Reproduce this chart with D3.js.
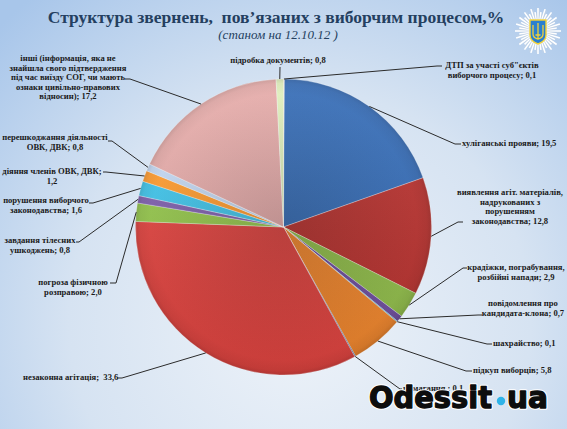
<!DOCTYPE html>
<html>
<head>
<meta charset="utf-8">
<script src="https://cdn.jsdelivr.net/npm/d3@7"></script>
<style>
  body { margin: 0; padding: 0; overflow: hidden; }
  #chart svg { display: block; }
</style>
</head>
<body>
<div id="chart"></div>
<script>
///////////////////////////////////////////////////////////////////////////
///////////////////////////////// Data ////////////////////////////////////
///////////////////////////////////////////////////////////////////////////

// slice names, clockwise from 12 o'clock; {v} is where the value goes
var names = [
  'ДТП за участі суб"єктів\nвиборчого процесу; {v}',
  "хуліганські прояви; {v}",
  "виявлення агіт. матеріалів,\nнадрукованих з\nпорушенням\nзаконодавства; {v}",
  "крадіжки, пограбування,\nрозбійні напади; {v}",
  "повідомлення про\nкандидата-клона; {v}",
  "шахрайство; {v}",
  "підкуп виборців; {v}",
  "вимагання ; {v}",
  "незаконна агітація;  {v}",
  "погроза фізичною\nрозправою; {v}",
  "завдання тілесних\nушкоджень; {v}",
  "порушення виборчого\nзаконодавства; {v}",
  "діяння членів ОВК, ДВК;\n{v}",
  "перешкоджання діяльності\nОВК, ДВК; {v}",
  "інші (інформація, яка не\nзнайшла свого підтвердження\nпід час виїзду СОГ, чи мають\nознаки цивільно-правових\nвідносин); {v}",
  "підробка документів; {v}"
]

var values = [0.1, 19.5, 12.8, 2.9, 0.7, 0.1, 5.8, 0.1, 33.6, 2.0, 0.8, 1.6, 1.2, 0.8, 17.2, 0.8]

var colors = ["#f9c08f", "#3367ae", "#b0302d", "#8ab447", "#6a4c98", "#3fa9c5", "#e5802b", "#2e5d9a",
              "#d6413d", "#8fbe4a", "#7a5ca6", "#3ebce0", "#f5952e", "#bccfe8", "#dba4a2", "#d6e5b4"]

var title = "Структура звернень,  пов’язаних з виборчим процесом,%"
var subtitle = "(станом на 12.10.12 )"

///////////////////////////////////////////////////////////////////////////
//////////////////////////////// Layout ///////////////////////////////////
///////////////////////////////////////////////////////////////////////////

var totalWidth = 567, totalHeight = 429
var cx = 283.5, cy = 227, radius = 148
var lineH = 9.6

// hand placed data labels (like the moved labels in the original sheet)
// x, y = first baseline; lx, ly = where the leader meets the label; sx = stub end
var labelLayout = [
  {x: 492, y: 68,  anchor: "middle", lx: 437, ly: 66,  sx: 442},
  {x: 462, y: 146, anchor: "start",  lx: 455, ly: 144, sx: 461},
  {x: 510, y: 195, anchor: "middle", lx: 458, ly: 222, sx: 463},
  {x: 516, y: 270, anchor: "middle", lx: 463, ly: 268, sx: 467},
  {x: 523, y: 306, anchor: "middle", lx: 478, ly: 315, sx: 482},
  {x: 493, y: 346, anchor: "start",  lx: 487, ly: 344, sx: 492},
  {x: 473, y: 373, anchor: "start",  lx: 466, ly: 371, sx: 472},
  {x: 403, y: 391, anchor: "start",  lx: 400, ly: 389, sx: 402},
  {x: 23,  y: 380, anchor: "start",  lx: 122, ly: 378, sx: 117},
  {x: 73,  y: 285, anchor: "middle", lx: 116, ly: 283, sx: 110},
  {x: 40,  y: 243, anchor: "middle", lx: 79,  ly: 242, sx: 76},
  {x: 46,  y: 203, anchor: "middle", lx: 93,  ly: 203, sx: 89},
  {x: 52,  y: 174, anchor: "middle", lx: 106, ly: 172, sx: 103},
  {x: 55,  y: 140, anchor: "middle", lx: 112, ly: 141, sx: 108},
  {x: 68,  y: 61,  anchor: "middle", lx: 130, ly: 79,  sx: 125},
  {x: 278, y: 63,  anchor: "middle", lx: 280, ly: 67,  sx: 280}
]

///////////////////////////////////////////////////////////////////////////
//////////////////// Set up and initiate containers ///////////////////////
///////////////////////////////////////////////////////////////////////////

var svg = d3.select("#chart").append("svg")
  .attr("width", totalWidth)
  .attr("height", totalHeight)

var defs = svg.append("defs")

var bg = defs.append("radialGradient")
  .attr("id", "bg")
  .attr("gradientUnits", "userSpaceOnUse")
  .attr("cx", 300).attr("cy", 320).attr("r", 420)
bg.append("stop").attr("offset", 0).attr("stop-color", "#eef3f9")
bg.append("stop").attr("offset", 0.55).attr("stop-color", "#d6e3f2")
bg.append("stop").attr("offset", 1).attr("stop-color", "#a8c6ea")

svg.append("rect")
  .attr("width", totalWidth)
  .attr("height", totalHeight)
  .attr("fill", "url(#bg)")

///////////////////////////////////////////////////////////////////////////
/////////////////////////////// Titles ////////////////////////////////////
///////////////////////////////////////////////////////////////////////////

svg.append("text")
  .attr("x", 276).attr("y", 23)
  .attr("text-anchor", "middle")
  .style("font-family", "'Liberation Serif', 'Times New Roman', serif")
  .style("font-weight", "bold")
  .style("font-size", "17.5px")
  .style("fill", "#243f60")
  .style("white-space", "pre")
  .text(title)

svg.append("text")
  .attr("x", 278).attr("y", 39)
  .attr("text-anchor", "middle")
  .style("font-family", "'Liberation Serif', 'Times New Roman', serif")
  .style("font-style", "italic")
  .style("font-size", "13px")
  .style("fill", "#243f60")
  .text(subtitle)

///////////////////////////////////////////////////////////////////////////
//////////////////////////////// Emblem ///////////////////////////////////
///////////////////////////////////////////////////////////////////////////

var emblem = svg.append("g").attr("transform", "translate(538,31)")

emblem.selectAll(".ray")
  .data(d3.range(40))
  .enter().append("line")
  .attr("x1", 0).attr("y1", -7)
  .attr("x2", 0).attr("y2", (d, i) => i % 2 ? -19 : -23)
  .attr("transform", d => "rotate(" + (d * 9) + ")")
  .attr("stroke", "#ffffff")
  .attr("stroke-width", 1.6)
emblem.selectAll(".ray2")
  .data(d3.range(40))
  .enter().append("line")
  .attr("x1", 0).attr("y1", -8)
  .attr("x2", 0).attr("y2", (d, i) => i % 2 ? -18 : -22)
  .attr("transform", d => "rotate(" + (d * 9 + 4.5) + ")")
  .attr("stroke", "#c9d3de")
  .attr("stroke-width", 0.5)

emblem.append("path")
  .attr("d", "M-8,-11 L8,-11 L8,4 Q8,10 0,13 Q-8,10 -8,4 Z")
  .attr("fill", "#2a7fd0")
  .attr("stroke", "#f2d23a")
  .attr("stroke-width", 1.4)
emblem.append("path")
  .attr("d", "M0,-8 L0,8 M-5,-6 L-5,3 Q-5,7 0,8 Q5,7 5,3 L5,-6 M-2.5,4 L2.5,4")
  .attr("fill", "none")
  .attr("stroke", "#f2d23a")
  .attr("stroke-width", 1.3)

///////////////////////////////////////////////////////////////////////////
////////////////////////////////// Pie ////////////////////////////////////
///////////////////////////////////////////////////////////////////////////

var fmt = v => d3.format(".1f")(v).replace(".", ",")

var data = values.map((v, i) => ({
  name: names[i],
  value: v,
  color: colors[i],
  pos: labelLayout[i]
}))

var pie = d3.pie()
  .sort(null)
  .value(d => d.value)

var arc = d3.arc()
  .innerRadius(0)
  .outerRadius(radius)

var arcs = pie(data)

// darker towards the centre, lighter at the rim, like the office bevel
arcs.forEach((d, i) => {
  var c = d3.color(d.data.color)
  var g = defs.append("radialGradient")
    .attr("id", "sl" + i)
    .attr("gradientUnits", "userSpaceOnUse")
    .attr("cx", 0).attr("cy", 0).attr("r", radius)
  g.append("stop").attr("offset", 0).attr("stop-color", c.darker(0.3))
  g.append("stop").attr("offset", 0.9).attr("stop-color", c.brighter(0.12))
  g.append("stop").attr("offset", 0.97).attr("stop-color", c)
  g.append("stop").attr("offset", 1).attr("stop-color", c.darker(0.25))
})

var pieG = svg.append("g")
  .attr("transform", "translate(" + cx + "," + cy + ")")

pieG.selectAll(".slice")
  .data(arcs)
  .enter().append("path")
  .attr("class", "slice")
  .attr("d", arc)
  .attr("fill", (d, i) => "url(#sl" + i + ")")
  .attr("stroke", "rgba(255,255,255,0.4)")
  .attr("stroke-width", 0.7)

// slight top-to-bottom light
var shade = defs.append("linearGradient").attr("id", "shade")
  .attr("x1", 0).attr("y1", 0).attr("x2", 0).attr("y2", 1)
shade.append("stop").attr("offset", 0).attr("stop-color", "#fff").attr("stop-opacity", 0.08)
shade.append("stop").attr("offset", 1).attr("stop-color", "#000").attr("stop-opacity", 0.1)
pieG.append("circle")
  .attr("r", radius)
  .attr("fill", "url(#shade)")

///////////////////////////////////////////////////////////////////////////
////////////////////////// Leaders and labels /////////////////////////////
///////////////////////////////////////////////////////////////////////////

var labelG = svg.append("g")

arcs.forEach(d => {
  var p = d.data.pos
  var mid = (d.startAngle + d.endAngle) / 2
  var edge = d3.pointRadial(mid, radius)
  var pts = [[cx + edge[0], cy + edge[1]], [p.lx, p.ly], [p.sx, p.ly]]
  labelG.append("path")
    .attr("d", d3.line()(pts))
    .attr("fill", "none")
    .attr("stroke", "#2b2b2b")
    .attr("stroke-width", 1)
})

arcs.forEach(d => {
  var p = d.data.pos
  var lines = d.data.name.replace("{v}", fmt(d.data.value)).split("\n")
  var t = labelG.append("text")
    .attr("text-anchor", p.anchor)
    .style("font-family", "'Liberation Serif', 'Times New Roman', serif")
    .style("font-weight", "bold")
    .style("font-size", "8.6px")
    .style("fill", "#1a1a1a")
    .style("white-space", "pre")
  lines.forEach((l, j) => {
    t.append("tspan")
      .attr("x", p.x)
      .attr("y", p.y + j * lineH)
      .text(l)
  })
})

///////////////////////////////////////////////////////////////////////////
/////////////////////////////// Watermark /////////////////////////////////
///////////////////////////////////////////////////////////////////////////

var wm = svg.append("g")
  .style("font-family", "'DejaVu Sans', sans-serif")
  .style("font-weight", "bold")
  .style("font-size", "31px")

function stamp(txt, x, len) {
  // white halo first, then a thickened black face
  wm.append("text")
    .attr("x", x).attr("y", 408)
    .attr("textLength", len)
    .attr("lengthAdjust", "spacingAndGlyphs")
    .style("fill", "#fff")
    .style("stroke", "#fff")
    .style("stroke-width", 3.5)
    .style("stroke-linejoin", "round")
    .text(txt)
  wm.append("text")
    .attr("x", x).attr("y", 408)
    .attr("textLength", len)
    .attr("lengthAdjust", "spacingAndGlyphs")
    .style("fill", "#0d0d0d")
    .style("stroke", "#0d0d0d")
    .style("stroke-width", 1.4)
    .style("stroke-linejoin", "round")
    .text(txt)
}

stamp("Odessit", 369, 123)

wm.append("circle")
  .attr("cx", 501).attr("cy", 401)
  .attr("r", 4.2)
  .attr("fill", "#2fb3e8")

stamp("ua", 507, 41)
</script>
</body>
</html>
